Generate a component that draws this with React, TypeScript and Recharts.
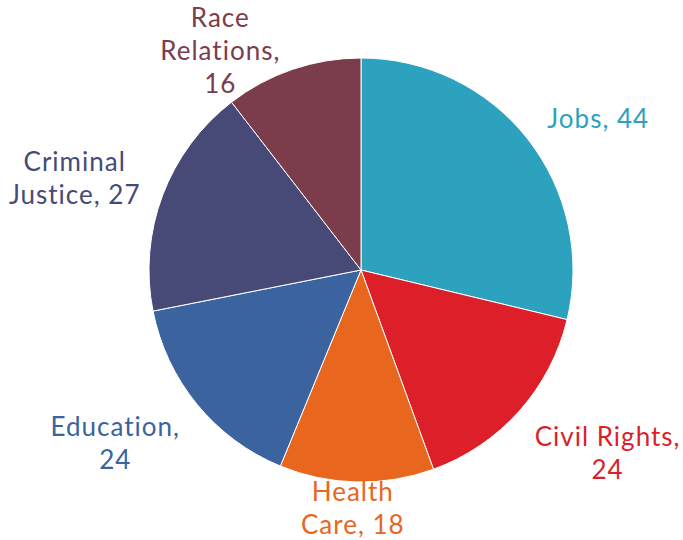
import { PieChart, Pie, Cell } from "recharts";

const categories = ["Jobs", "Civil Rights", "Health Care", "Education", "Criminal Justice", "Race Relations"];
const values = [44, 24, 18, 24, 27, 16];
const labelLines = [
  ["Jobs, 44"],
  ["Civil Rights,", "24"],
  ["Health", "Care, 18"],
  ["Education,", "24"],
  ["Criminal", "Justice, 27"],
  ["Race", "Relations,", "16"],
];

const colors = ["#2CA2BF", "#DC1F29", "#E9661E", "#3A63A0", "#474A76", "#7B3C4B"];
// label placement: distance from centre and angle nudge (degrees)
const labelPos = [
  { r: 282, shift: -5.5 },
  { r: 307, shift: 5.2 },
  { r: 238, shift: -0.8 },
  { r: 300, shift: -4.4 },
  { r: 301, shift: 2.6 },
  { r: 261, shift: 13.8 },
];

const data = categories.map((name, i) => ({ name, value: values[i] }));
const RADIAN = Math.PI / 180;
const LINE_H = 33;

function renderLabel(props: any) {
  const { cx, cy, midAngle, index } = props;
  const pos = labelPos[index];
  const a = (midAngle + pos.shift) * RADIAN;
  const x = cx + pos.r * Math.cos(a);
  const y = cy - pos.r * Math.sin(a);
  const lines = labelLines[index];
  const top = y - ((lines.length - 1) * LINE_H) / 2;
  return (
    <text
      key={index}
      x={x}
      y={top}
      fill={colors[index]}
      textAnchor="middle"
      dominantBaseline="central"
      fontSize={26}
      letterSpacing={1}
      fontFamily="Lato, sans-serif"
    >
      {lines.map((l, j) => (
        <tspan key={j} x={x} y={top + j * LINE_H}>
          {l}
        </tspan>
      ))}
    </text>
  );
}

export default function App() {
  return (
    <div style={{ width: 683, height: 540, background: "#fff" }}>
      <style>{`body{margin:0}`}</style>
      <PieChart width={683} height={540} margin={{ top: 0, right: 0, bottom: 0, left: 0 }}>
        <Pie
          data={data}
          dataKey="value"
          nameKey="name"
          cx={361}
          cy={270}
          outerRadius={212}
          startAngle={90}
          endAngle={-270}
          stroke="#fff"
          strokeWidth={1}
          label={renderLabel}
          labelLine={false}
          isAnimationActive={false}
        >
          {data.map((d, i) => (
            <Cell key={d.name} fill={colors[i]} />
          ))}
        </Pie>
      </PieChart>
    </div>
  );
}
